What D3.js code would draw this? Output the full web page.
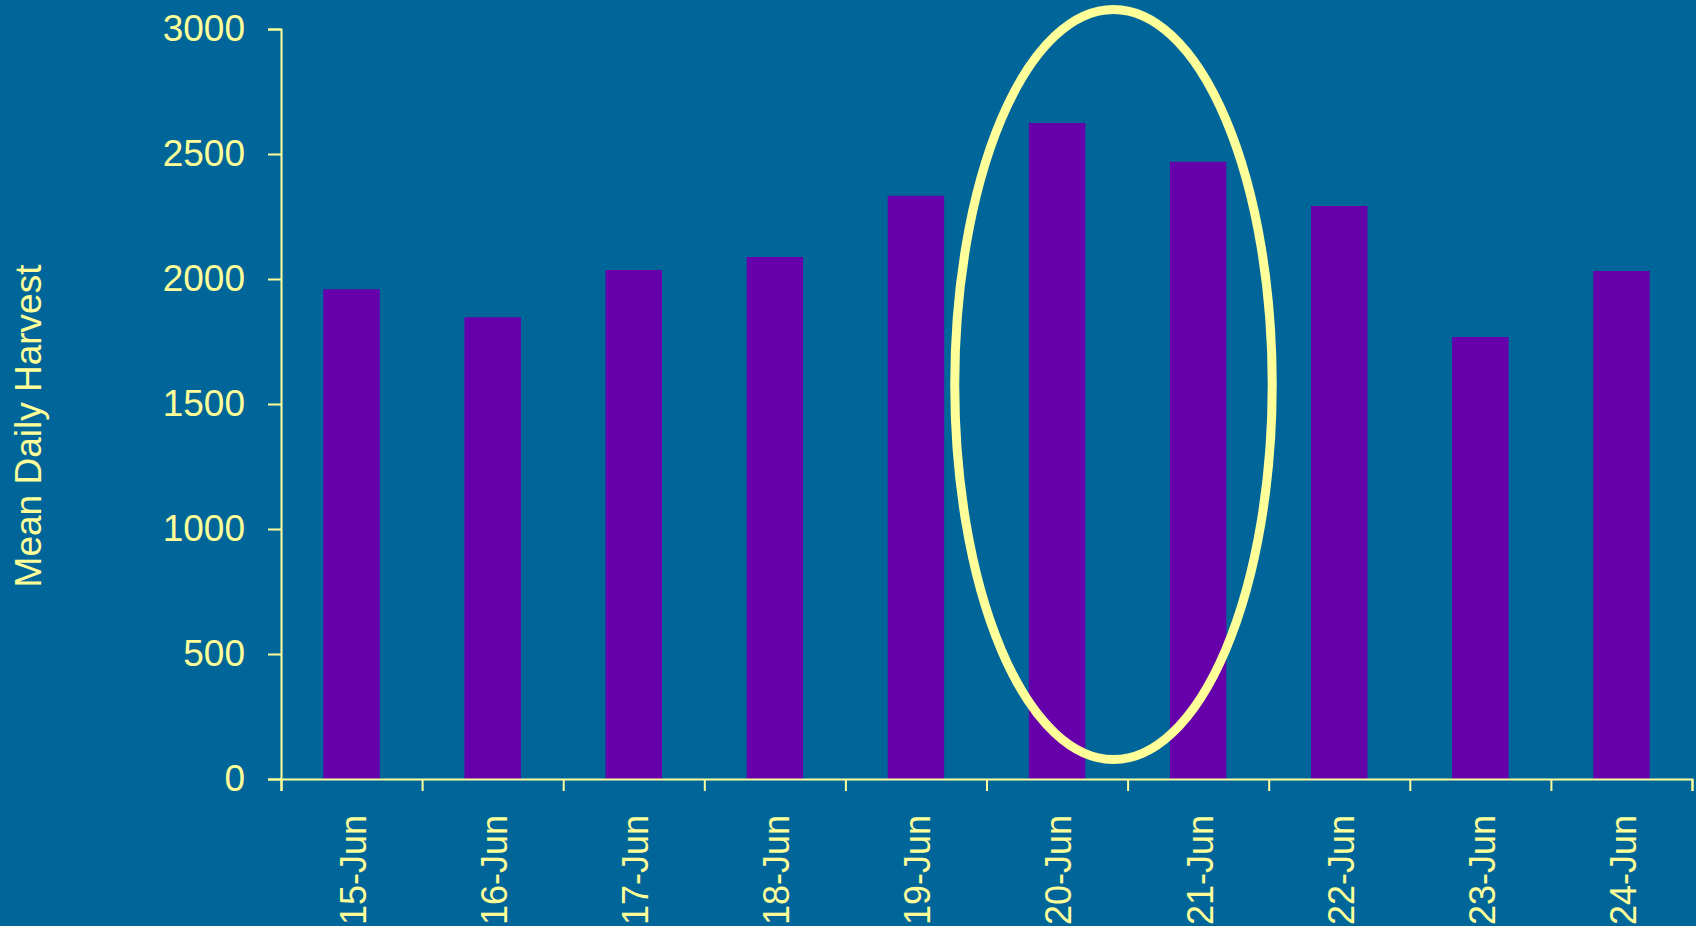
<!DOCTYPE html>
<html>
<head>
<meta charset="utf-8">
<script src="https://cdn.jsdelivr.net/npm/d3@7"></script>
<style>
  html, body { margin: 0; padding: 0; background: #006699; overflow: hidden; }
  svg { display: block; }
  text { font-family: "Liberation Sans", Arial, sans-serif; }
</style>
</head>
<body>
<svg id="chart" width="1696" height="926"></svg>
<script>
// ---- data ----
const categories = ["15-Jun", "16-Jun", "17-Jun", "18-Jun", "19-Jun", "20-Jun", "21-Jun", "22-Jun", "23-Jun", "24-Jun"];
const harvest = [1959, 1847, 2036, 2088, 2333, 2624, 2469, 2292, 1768, 2032];
const yTicks = [0, 500, 1000, 1500, 2000, 2500, 3000];
const yTitle = "Mean Daily Harvest";
// highlight ellipse, in data units (category index / value)
const highlightCenter = [5.90, 1578];
const highlightRadius = [1.125, 1500];

// ---- layout / style ----
const W = 1696, H = 926;
const mLeft = 281, mRight = 1692, mTop = 29, mBottom = 779;
const yellow = "#FFFF99", barColor = "#6600AA", bg = "#006699";
const fontSize = 37, xLabelSize = 36;

const svg = d3.select("#chart");
svg.append("rect").attr("width", W).attr("height", H).attr("fill", bg);

const x = d3.scaleBand().domain(categories).range([mLeft, mRight]).paddingInner(0.6).paddingOuter(0.3);
const xi = d3.scaleLinear().domain([0, categories.length]).range([mLeft, mRight]);
const y = d3.scaleLinear().domain([0, 3000]).range([mBottom, mTop]);

// bars
svg.append("g").selectAll("rect").data(harvest).join("rect")
  .attr("x", (d, i) => x(categories[i]))
  .attr("width", x.bandwidth())
  .attr("y", d => y(d))
  .attr("height", d => y(0) - y(d))
  .attr("fill", barColor);

// y axis
const yAxis = svg.append("g").attr("transform", `translate(${mLeft},0)`)
  .call(d3.axisLeft(y).tickValues(yTicks).tickSize(13).tickPadding(23).tickFormat(d3.format("d")));
yAxis.selectAll("path, line").attr("stroke", yellow).attr("stroke-width", 2);
yAxis.selectAll("text").attr("fill", yellow).attr("font-size", fontSize).attr("font-family", "Liberation Sans, Arial, sans-serif");

// x axis: tick marks at category boundaries
const xTickAxis = svg.append("g").attr("transform", `translate(0,${mBottom})`)
  .call(d3.axisBottom(xi).tickValues(d3.range(categories.length + 1)).tickSize(12).tickSizeOuter(12).tickFormat(""));
xTickAxis.selectAll("path, line").attr("stroke", yellow).attr("stroke-width", 2);

// x axis labels, rotated
const xLabelAxis = svg.append("g").attr("transform", `translate(0,${mBottom})`)
  .call(d3.axisBottom(x).tickSize(0).tickPadding(0));
xLabelAxis.select(".domain").remove();
xLabelAxis.selectAll("text")
  .attr("fill", yellow).attr("font-size", xLabelSize).attr("font-family", "Liberation Sans, Arial, sans-serif")
  .attr("transform", "rotate(-90)")
  .attr("text-anchor", "end")
  .attr("x", -36).attr("y", 0).attr("dy", "0.4em");

// y title
svg.append("text")
  .attr("transform", `translate(41,${(mTop + mBottom) / 2 + 22}) rotate(-90)`)
  .attr("text-anchor", "middle")
  .attr("fill", yellow).attr("font-size", fontSize)
  .text(yTitle);

// highlight ellipse
svg.append("ellipse")
  .attr("cx", xi(highlightCenter[0]))
  .attr("cy", y(highlightCenter[1]))
  .attr("rx", xi(highlightRadius[0]) - xi(0))
  .attr("ry", y(0) - y(highlightRadius[1]))
  .attr("fill", "none")
  .attr("stroke", yellow)
  .attr("stroke-width", 9);
</script>
</body>
</html>
